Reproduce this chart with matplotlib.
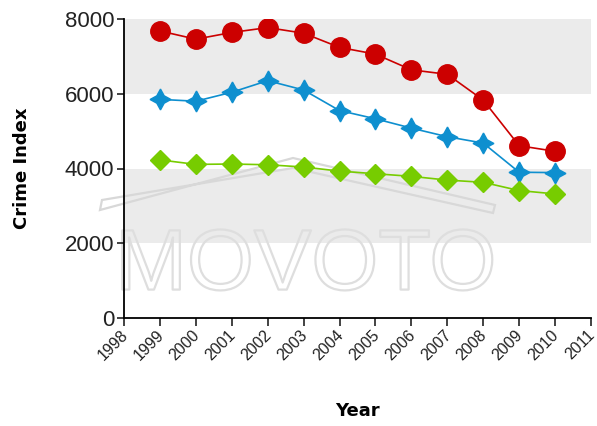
import matplotlib
matplotlib.use("Agg")
import matplotlib.pyplot as plt
import matplotlib.patheffects as pe
import matplotlib.transforms as mtransforms
from matplotlib.patches import Polygon

plt.rcParams["font.family"] = ["Liberation Sans", "DejaVu Sans"]

years = [1999, 2000, 2001, 2002, 2003, 2004, 2005, 2006, 2007, 2008, 2009, 2010]
red_vals = [7680, 7460, 7640, 7770, 7620, 7240, 7060, 6640, 6520, 5830, 4610, 4460]
blue_vals = [5850, 5800, 6040, 6350, 6100, 5550, 5330, 5080, 4850, 4680, 3900, 3890]
green_vals = [4230, 4110, 4120, 4100, 4040, 3930, 3860, 3790, 3690, 3630, 3410, 3320]
x_ticks = list(range(1998, 2012))
y_ticks = [0, 2000, 4000, 6000, 8000]

fig = plt.figure(figsize=(5.97, 4.26), dpi=100)
ax = fig.add_axes([124 / 597, 1 - 318 / 426, 467 / 597, 299 / 426])
ax.set_xlim(1998, 2011)
ax.set_ylim(0, 8000)

# gray bands
ax.axhspan(6000, 8000, color="#ebebeb", lw=0, zorder=0)
ax.axhspan(2000, 4000, color="#ebebeb", lw=0, zorder=0)

# watermark
ax.text(0.39, 0.095, "MOVOTO", transform=ax.transAxes, ha="center", va="baseline",
        fontsize=62, color=(1, 1, 1, 0), zorder=1,
        path_effects=[pe.withStroke(linewidth=1.6, foreground="#dedede")])
roof = [(-24, 108), (169, 160), (371, 113), (369, 105), (169, 150), (-22, 118)]
roof = [(px / 467, py / 299) for px, py in roof]
ax.add_patch(Polygon(roof, closed=True, fill=False, ec="#d8d8d8", lw=1.6,
                     transform=ax.transAxes, clip_on=False, zorder=1))

ax.plot(years, red_vals, color="#cc0000", lw=1.2, marker="o", ms=14, zorder=3)
ax.plot(years, blue_vals, color="#0e8fcf", lw=1.2, marker=(4, 1, 0), ms=15, zorder=3)
ax.plot(years, green_vals, color="#77cc00", lw=1.2, marker="D", ms=10, zorder=3)

for s in ["top", "right"]:
    ax.spines[s].set_visible(False)
for s in ["left", "bottom"]:
    ax.spines[s].set_linewidth(1.3)

ax.set_xticks(x_ticks)
ax.set_yticks(y_ticks)
ax.tick_params(axis="y", labelsize=16, length=5, width=1.2, colors="#222222", pad=2)
ax.tick_params(axis="x", labelsize=11.5, length=6, width=1.2, colors="#222222", pad=1)
shift = mtransforms.ScaledTranslation(-4 / 100, 0, fig.dpi_scale_trans)
for lab in ax.get_xticklabels():
    lab.set_rotation(45)
    lab.set_ha("right")
    lab.set_rotation_mode("anchor")
    lab.set_transform(lab.get_transform() + shift)

ax.set_xlabel("Year", fontsize=13, fontweight="bold", family="DejaVu Sans", labelpad=28)
ax.set_ylabel("Crime Index", fontsize=13, fontweight="bold", family="DejaVu Sans", labelpad=24)

fig.savefig("out.png", dpi=100)
